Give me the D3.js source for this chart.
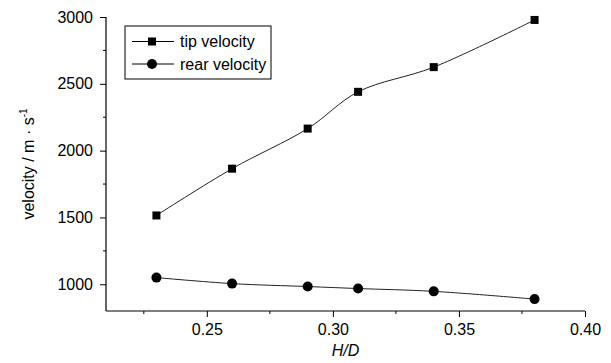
<!DOCTYPE html>
<html>
<head>
<meta charset="utf-8">
<script src="https://cdn.jsdelivr.net/npm/d3@7"></script>
<style>
  body { margin: 0; background: #fff; }
  svg { display: block; font-family: "Liberation Sans", Arial, sans-serif; }
</style>
</head>
<body>
<div id="chart"></div>
<script>
const ratios = [0.23, 0.26, 0.29, 0.31, 0.34, 0.38];
const tipVelocity = [1515, 1865, 2165, 2440, 2625, 2978];
const rearVelocity = [1050, 1005, 983, 968, 947, 889];
const xTicks = [0.25, 0.30, 0.35, 0.40];
const yTicks = [1000, 1500, 2000, 2500, 3000];

const W = 611, H = 363;
const margin = { top: 17, right: 26, bottom: 52, left: 106 };
const width = W - margin.left - margin.right;
const height = H - margin.top - margin.bottom;

const svg = d3.select('#chart').append('svg')
  .attr('width', W)
  .attr('height', H);

const g = svg.append('g')
  .attr('transform', `translate(${margin.left},${margin.top})`);

const x = d3.scaleLinear().domain([0.21, 0.40]).range([0, width]);
const y = d3.scaleLinear().domain([800, 3000]).range([height, 0]);

// minor ticks
const xMinor = d3.range(0.225, 0.40, 0.05);
const yMinor = d3.range(1250, 3000, 500);

g.selectAll('.xminor').data(xMinor).enter().append('line')
  .attr('x1', d => x(d)).attr('x2', d => x(d))
  .attr('y1', height).attr('y2', height + 3)
  .attr('stroke', '#000');
g.selectAll('.yminor').data(yMinor).enter().append('line')
  .attr('x1', -3).attr('x2', 0)
  .attr('y1', d => y(d)).attr('y2', d => y(d))
  .attr('stroke', '#000');

const xAxis = g.append('g')
  .attr('transform', `translate(0,${height})`)
  .call(d3.axisBottom(x).tickValues(xTicks).tickFormat(d3.format('.2f')).tickSize(6).tickPadding(7));
const yAxis = g.append('g')
  .call(d3.axisLeft(y).tickValues(yTicks).tickFormat(d3.format('d')).tickSize(6).tickPadding(7));

[xAxis, yAxis].forEach(a => {
  a.select('.domain').attr('stroke', '#000').attr('stroke-width', 1.2);
  a.selectAll('text').style('font-size', '16px').attr('fill', '#000');
  a.selectAll('.tick line').attr('stroke', '#000');
});
// cut the domain end caps
xAxis.select('.domain').attr('d', `M0,0H${width}`);
yAxis.select('.domain').attr('d', `M0,${height}V0`);

const tipData = ratios.map((r, i) => [r, tipVelocity[i]]);
const rearData = ratios.map((r, i) => [r, rearVelocity[i]]);

const line = d3.line()
  .x(d => x(d[0]))
  .y(d => y(d[1]))
  .curve(d3.curveCatmullRom);

g.append('path').datum(tipData)
  .attr('fill', 'none').attr('stroke', '#222').attr('stroke-width', 1)
  .attr('d', line);
g.append('path').datum(rearData)
  .attr('fill', 'none').attr('stroke', '#222').attr('stroke-width', 1)
  .attr('d', line);

g.selectAll('.sq').data(tipData).enter().append('rect')
  .attr('x', d => x(d[0]) - 4).attr('y', d => y(d[1]) - 4)
  .attr('width', 8).attr('height', 8)
  .attr('fill', '#000');
g.selectAll('.dot').data(rearData).enter().append('circle')
  .attr('cx', d => x(d[0])).attr('cy', d => y(d[1]))
  .attr('r', 5)
  .attr('fill', '#000');

// legend
const legend = svg.append('g').attr('transform', 'translate(125,26)');
legend.append('rect')
  .attr('width', 146).attr('height', 53)
  .attr('fill', '#fff').attr('stroke', '#000').attr('stroke-width', 1);
const items = [
  { name: 'tip velocity', shape: 'square', y: 15.5 },
  { name: 'rear velocity', shape: 'circle', y: 38 }
];
items.forEach(it => {
  legend.append('line')
    .attr('x1', 7).attr('x2', 49)
    .attr('y1', it.y).attr('y2', it.y)
    .attr('stroke', '#000');
  if (it.shape === 'square') {
    legend.append('rect')
      .attr('x', 23).attr('y', it.y - 4).attr('width', 8).attr('height', 8)
      .attr('fill', '#000');
  } else {
    legend.append('circle')
      .attr('cx', 27).attr('cy', it.y).attr('r', 5).attr('fill', '#000');
  }
  legend.append('text')
    .attr('x', 55).attr('y', it.y + 5.5)
    .style('font-size', '16px')
    .text(it.name);
});

// axis titles
svg.append('text')
  .attr('x', margin.left + width / 2).attr('y', 356)
  .attr('text-anchor', 'middle')
  .style('font-size', '16px').style('font-style', 'italic')
  .text('H/D');

const yt = svg.append('text')
  .attr('transform', `translate(34,${margin.top + height / 2}) rotate(-90)`)
  .attr('text-anchor', 'middle')
  .style('font-size', '16px');
yt.append('tspan').text('velocity / m \u00b7 s');
yt.append('tspan').attr('dy', -7).style('font-size', '10px').text('-1');
</script>
</body>
</html>
